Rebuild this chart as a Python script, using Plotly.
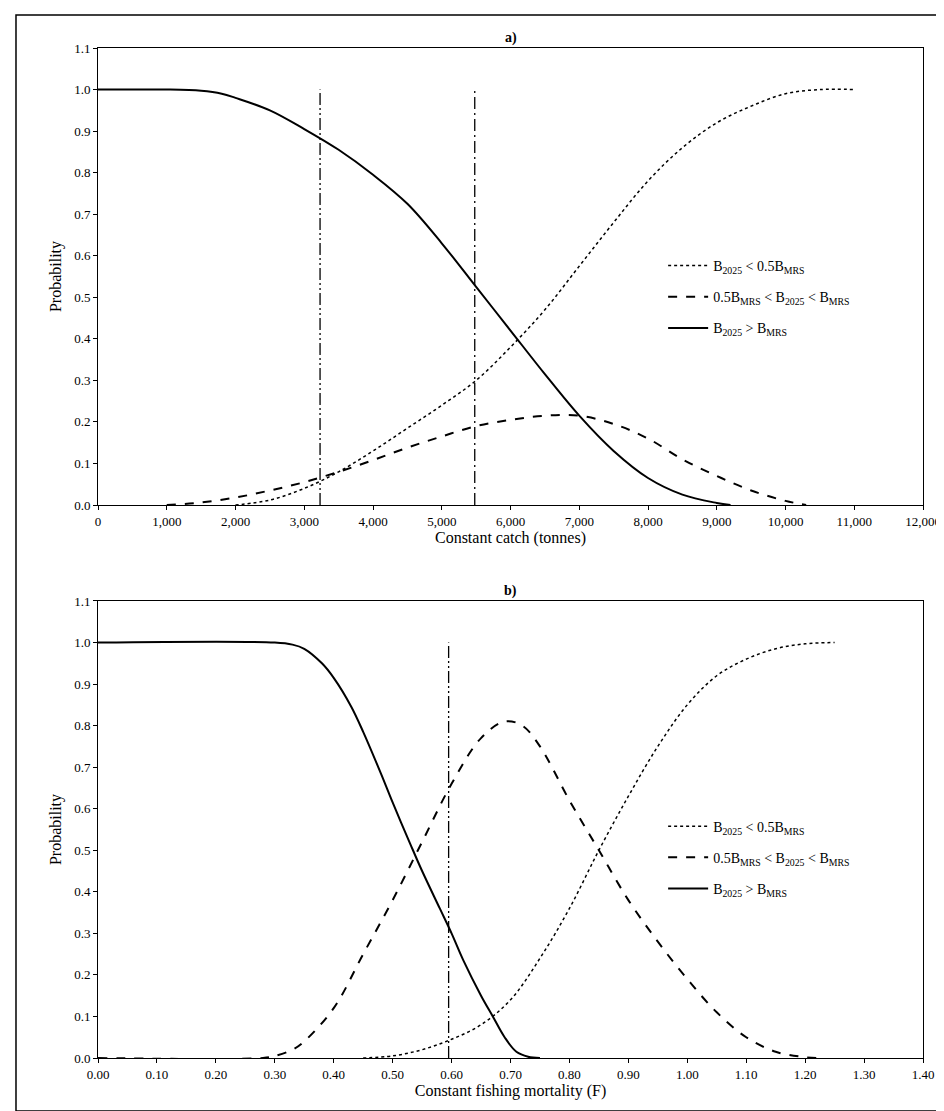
import plotly.graph_objects as go
from plotly.subplots import make_subplots

# panel a) constant catch
catch_solid_x = [0, 500, 1000, 1500, 1800, 2000, 2500, 3000, 3500, 4000, 4500, 5000, 5500, 6000, 6500, 7000, 7500, 8000, 8500, 9000, 9200]
catch_solid_y = [1.0, 1.0, 1.0, 0.997, 0.99, 0.98, 0.95, 0.905, 0.855, 0.795, 0.725, 0.63, 0.525, 0.42, 0.315, 0.215, 0.13, 0.065, 0.025, 0.005, 0.0]
catch_dot_x = [2000, 2500, 3000, 3500, 4000, 4500, 5000, 5500, 6000, 6500, 7000, 7500, 8000, 8500, 9000, 9500, 10000, 10500, 11000]
catch_dot_y = [0.0, 0.012, 0.04, 0.08, 0.13, 0.185, 0.24, 0.30, 0.38, 0.47, 0.575, 0.68, 0.78, 0.86, 0.92, 0.96, 0.99, 1.0, 1.0]
catch_dash_x = [1000, 1500, 2000, 2500, 3000, 3500, 4000, 4500, 5000, 5500, 6000, 6500, 7000, 7500, 8000, 8500, 9000, 9500, 10000, 10300]
catch_dash_y = [0.0, 0.006, 0.018, 0.035, 0.055, 0.08, 0.108, 0.138, 0.165, 0.19, 0.205, 0.215, 0.215, 0.195, 0.16, 0.11, 0.07, 0.035, 0.01, 0.0]
catch_vlines = [3230, 5480]

# panel b) constant F
f_solid_x = [0, 0.3, 0.33, 0.35, 0.38, 0.40, 0.43, 0.45, 0.48, 0.50, 0.53, 0.55, 0.58, 0.60, 0.62, 0.65, 0.67, 0.69, 0.71, 0.73, 0.75]
f_solid_y = [1.0, 1.0, 0.995, 0.985, 0.95, 0.915, 0.845, 0.785, 0.685, 0.615, 0.515, 0.45, 0.36, 0.30, 0.235, 0.15, 0.10, 0.05, 0.015, 0.003, 0.0]
f_dash_x = [0, 0.28, 0.30, 0.33, 0.35, 0.40, 0.45, 0.50, 0.55, 0.60, 0.65, 0.69, 0.72, 0.75, 0.80, 0.85, 0.90, 0.95, 1.00, 1.05, 1.10, 1.15, 1.20, 1.22]
f_dash_y = [0.0, 0.0, 0.005, 0.02, 0.04, 0.12, 0.25, 0.38, 0.52, 0.66, 0.77, 0.81, 0.80, 0.75, 0.62, 0.50, 0.38, 0.28, 0.19, 0.11, 0.05, 0.015, 0.002, 0.0]
f_dot_x = [0.45, 0.50, 0.55, 0.60, 0.65, 0.70, 0.75, 0.80, 0.85, 0.90, 0.95, 1.00, 1.05, 1.10, 1.15, 1.20, 1.25]
f_dot_y = [0.0, 0.005, 0.02, 0.045, 0.08, 0.14, 0.24, 0.36, 0.50, 0.63, 0.75, 0.85, 0.92, 0.96, 0.985, 0.997, 1.0]
f_vlines = [0.595]

names = ["B<sub>2025</sub> < 0.5B<sub>MRS</sub>",
         "0.5B<sub>MRS</sub> < B<sub>2025</sub> < B<sub>MRS</sub>",
         "B<sub>2025</sub> > B<sub>MRS</sub>"]

vdash = ["12px,3px,2px,3px,2px,3px", "12px,4px,2px,4px"]

fig = make_subplots(rows=2, cols=1, vertical_spacing=0.03)

def add_panel(row, vx, sol, dot, dash, leg):
    for i, x in enumerate(vx):
        fig.add_trace(go.Scatter(x=[x, x], y=[0, 1.0], mode="lines", showlegend=False,
                                 line=dict(color="black", width=1.3, dash=vdash[i])), row=row, col=1)
    fig.add_trace(go.Scatter(x=dot[0], y=dot[1], mode="lines", name=names[0], legend=leg,
                             legendgroup=leg + "a",
                             line=dict(color="black", width=1.5, dash="dot", shape="spline")), row=row, col=1)
    fig.add_trace(go.Scatter(x=dash[0], y=dash[1], mode="lines", name=names[1], legend=leg,
                             legendgroup=leg + "b",
                             line=dict(color="black", width=2, dash="dash", shape="spline")), row=row, col=1)
    fig.add_trace(go.Scatter(x=sol[0], y=sol[1], mode="lines", name=names[2], legend=leg,
                             legendgroup=leg + "c",
                             line=dict(color="black", width=2, shape="spline")), row=row, col=1)

add_panel(1, catch_vlines, (catch_solid_x, catch_solid_y), (catch_dot_x, catch_dot_y), (catch_dash_x, catch_dash_y), "legend")
add_panel(2, f_vlines, (f_solid_x, f_solid_y), (f_dot_x, f_dot_y), (f_dash_x, f_dash_y), "legend2")

ax = dict(showline=True, linecolor="black", linewidth=1, ticks="outside", ticklen=4,
          tickcolor="black", showgrid=False, zeroline=False, mirror=True,
          tickfont=dict(size=13))
fig.update_xaxes(**ax)
fig.update_yaxes(**ax, range=[0, 1.1], dtick=0.1, tickformat=".1f", title_text="Probability",
                 title_standoff=8)
fig.update_xaxes(range=[0, 12000], dtick=1000, tickformat=",", row=1, col=1,
                 title_text="Constant catch (tonnes)", title_standoff=4)
fig.update_xaxes(range=[0, 1.4], dtick=0.1, tickformat=".2f", row=2, col=1,
                 title_text="Constant fishing mortality (F)", title_standoff=2)
fig.update_layout(yaxis=dict(domain=[0.5475, 1]), yaxis2=dict(domain=[0, 0.4525]))

leg_style = dict(bgcolor="rgba(0,0,0,0)", font=dict(size=14), itemwidth=40,
                 tracegroupgap=10, xanchor="left", yanchor="top")
fig.update_layout(
    legend=dict(x=0.685, y=0.8, **leg_style),
    legend2=dict(x=0.685, y=0.245, **leg_style),
)

fig.add_annotation(text="<b>a)</b>", x=0.5, y=1.0, xref="paper", yref="paper",
                   yanchor="bottom", showarrow=False, font=dict(size=14))
fig.add_annotation(text="<b>b)</b>", x=0.5, y=0.4525, xref="paper", yref="paper",
                   yanchor="bottom", showarrow=False, font=dict(size=14))
fig.add_shape(type="rect", xref="paper", yref="paper", x0=-0.0994, x1=1.0255, y0=-0.0525, y1=1.0327,
              line=dict(color="black", width=1.5))

fig.update_layout(width=944, height=1111, plot_bgcolor="white", paper_bgcolor="white",
                  margin=dict(l=90, r=29, t=40, b=61),
                  font=dict(family="Liberation Serif", size=13, color="black"))

fig.write_html("out.html")
